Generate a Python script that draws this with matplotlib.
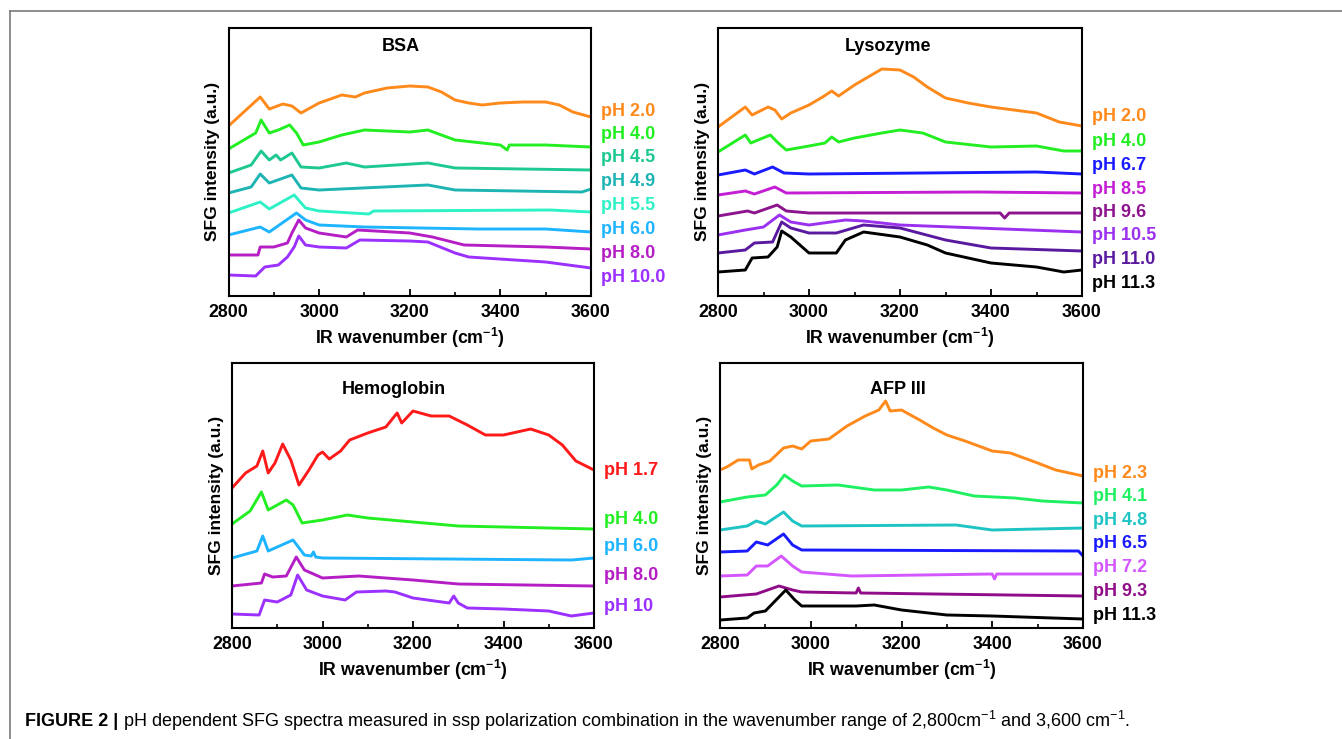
"""pH dependent SFG spectra, four proteins in a 2x2 grid"""
import matplotlib
matplotlib.use("Agg")
import matplotlib.pyplot as plt
from matplotlib.ticker import MultipleLocator

plt.rcParams['font.family'] = ['Liberation Sans', 'DejaVu Sans']
plt.rcParams['mathtext.fontset'] = 'custom'
plt.rcParams['mathtext.rm'] = 'Liberation Sans'
plt.rcParams['mathtext.bf'] = 'Liberation Sans:bold'

# ---- BSA (a.u.) ----
bsa_20_x = [2800, 2870, 2890, 2920, 2940, 2960, 2980, 3000, 3050, 3080, 3100, 3150, 3200, 3240, 3270, 3300, 3330, 3360, 3400, 3450, 3500, 3530, 3560, 3600]
bsa_20_y = [170, 199, 187, 192, 190, 183, 188, 193, 201, 199, 203, 208, 210, 209, 204, 196, 193, 191, 193, 194, 194, 191, 184, 179]
bsa_40_x = [2800, 2860, 2872, 2890, 2910, 2935, 2950, 2965, 3000, 3050, 3100, 3200, 3240, 3300, 3400, 3415, 3420, 3500, 3600]
bsa_40_y = [147, 163, 176, 163, 166, 171, 163, 151, 154, 161, 166, 164, 166, 156, 151, 146, 151, 151, 149]
bsa_45_x = [2800, 2850, 2872, 2890, 2905, 2915, 2940, 2960, 3000, 3060, 3100, 3240, 3300, 3600]
bsa_45_y = [123, 131, 145, 136, 141, 136, 143, 129, 128, 133, 129, 133, 128, 126]
bsa_49_x = [2800, 2850, 2870, 2890, 2940, 2960, 3000, 3240, 3300, 3580, 3600]
bsa_49_y = [103, 109, 122, 113, 121, 108, 106, 111, 106, 104, 107]
bsa_55_x = [2800, 2870, 2890, 2945, 2970, 3000, 3110, 3120, 3510, 3600]
bsa_55_y = [83, 94, 87, 101, 88, 85, 82, 85, 86, 84]
bsa_60_x = [2800, 2870, 2890, 2950, 2970, 3000, 3100, 3350, 3500, 3600]
bsa_60_y = [61, 69, 64, 83, 76, 71, 69, 67, 67, 64]
bsa_80_x = [2800, 2865, 2870, 2900, 2930, 2940, 2955, 2970, 3000, 3060, 3085, 3200, 3250, 3320, 3500, 3600]
bsa_80_y = [41, 41, 49, 49, 53, 63, 76, 68, 63, 59, 66, 63, 59, 51, 49, 47]
bsa_100_x = [2800, 2860, 2880, 2910, 2930, 2945, 2955, 2970, 3000, 3060, 3090, 3200, 3240, 3300, 3330, 3500, 3600]
bsa_100_y = [21, 20, 29, 31, 39, 49, 60, 51, 49, 48, 56, 55, 54, 43, 39, 34, 28]
bsa_labels = ['pH 2.0', 'pH 4.0', 'pH 4.5', 'pH 4.9', 'pH 5.5', 'pH 6.0', 'pH 8.0', 'pH 10.0']

# ---- Lysozyme ----
lys_20_x = [2800, 2860, 2875, 2910, 2925, 2940, 2960, 3000, 3030, 3050, 3065, 3100, 3130, 3160, 3200, 3230, 3260, 3300, 3350, 3400, 3450, 3500, 3550, 3600]
lys_20_y = [169, 189, 181, 189, 186, 177, 183, 191, 199, 205, 200, 211, 219, 227, 226, 219, 209, 198, 193, 189, 186, 183, 174, 170]
lys_40_x = [2800, 2860, 2872, 2915, 2930, 2950, 3000, 3035, 3050, 3065, 3100, 3160, 3200, 3250, 3300, 3400, 3500, 3560, 3600]
lys_40_y = [144, 161, 153, 161, 154, 146, 150, 153, 159, 154, 158, 163, 166, 163, 154, 149, 150, 145, 145]
lys_67_x = [2800, 2860, 2880, 2920, 2945, 3000, 3500, 3600]
lys_67_y = [121, 126, 122, 129, 123, 122, 124, 122]
lys_85_x = [2800, 2860, 2880, 2925, 2950, 3370, 3600]
lys_85_y = [101, 105, 102, 109, 103, 104, 103]
lys_96_x = [2800, 2865, 2880, 2930, 2950, 3000, 3420, 3430, 3440, 3600]
lys_96_y = [80, 85, 83, 91, 85, 83, 83, 78, 83, 83]
lys_105_x = [2800, 2860, 2900, 2935, 2960, 3000, 3080, 3120, 3200, 3600]
lys_105_y = [61, 66, 69, 81, 74, 71, 76, 75, 71, 64]
lys_110_x = [2800, 2860, 2880, 2920, 2940, 2960, 3000, 3060, 3120, 3200, 3300, 3400, 3600]
lys_110_y = [43, 46, 53, 54, 74, 68, 63, 63, 71, 68, 56, 48, 45]
lys_113_x = [2800, 2860, 2875, 2910, 2930, 2940, 2960, 3000, 3060, 3080, 3120, 3200, 3260, 3300, 3400, 3500, 3560, 3600]
lys_113_y = [24, 26, 38, 39, 49, 65, 59, 43, 43, 56, 64, 59, 51, 43, 33, 29, 24, 26]
lys_labels = ['pH 2.0', 'pH 4.0', 'pH 6.7', 'pH 8.5', 'pH 9.6', 'pH 10.5', 'pH 11.0', 'pH 11.3']

# ---- Hemoglobin ----
hem_17_x = [2800, 2830, 2855, 2868, 2880, 2895, 2912, 2930, 2948, 2970, 2990, 3000, 3015, 3040, 3060, 3100, 3140, 3165, 3175, 3200, 3240, 3280, 3320, 3360, 3400, 3460, 3500, 3530, 3560, 3600]
hem_17_y = [140, 155, 162, 177, 155, 165, 184, 168, 143, 158, 173, 176, 169, 177, 188, 195, 201, 215, 205, 217, 212, 212, 203, 193, 193, 199, 193, 183, 167, 158]
hem_40_x = [2800, 2840, 2865, 2880, 2920, 2935, 2955, 3000, 3055, 3100, 3200, 3300, 3600]
hem_40_y = [104, 117, 136, 118, 128, 123, 105, 108, 113, 110, 106, 102, 99]
hem_60_x = [2800, 2855, 2868, 2880, 2935, 2960, 2975, 2980, 2985, 3000, 3550, 3600]
hem_60_y = [70, 77, 92, 77, 88, 73, 72, 76, 71, 70, 68, 70]
hem_80_x = [2800, 2865, 2872, 2890, 2920, 2942, 2960, 3000, 3080, 3200, 3300, 3600]
hem_80_y = [42, 45, 54, 51, 52, 71, 58, 50, 52, 48, 44, 42]
hem_100_x = [2800, 2860, 2872, 2900, 2930, 2945, 2965, 3000, 3050, 3075, 3140, 3160, 3200, 3280, 3290, 3300, 3320, 3400, 3500, 3550, 3600]
hem_100_y = [14, 13, 28, 26, 33, 53, 38, 32, 28, 36, 37, 36, 30, 25, 32, 25, 20, 19, 17, 12, 15]
hem_labels = ['pH 1.7', 'pH 4.0', 'pH 6.0', 'pH 8.0', 'pH 10']

# ---- AFP III ----
afp_23_x = [2800, 2815, 2840, 2865, 2870, 2885, 2910, 2940, 2960, 2980, 3000, 3040, 3080, 3120, 3150, 3165, 3175, 3200, 3240, 3270, 3300, 3340, 3400, 3440, 3500, 3540, 3600]
afp_23_y = [158, 161, 168, 168, 159, 163, 167, 180, 182, 179, 187, 189, 202, 212, 218, 227, 217, 218, 208, 200, 193, 187, 177, 175, 165, 158, 152]
afp_41_x = [2800, 2860, 2900, 2925, 2942, 2960, 2980, 3060, 3140, 3200, 3260, 3300, 3360, 3450, 3510, 3600]
afp_41_y = [126, 131, 133, 143, 153, 147, 142, 143, 138, 138, 141, 138, 132, 130, 127, 125]
afp_48_x = [2800, 2860, 2880, 2900, 2940, 2960, 2980, 3320, 3400, 3600]
afp_48_y = [98, 102, 107, 104, 116, 107, 102, 103, 98, 100]
afp_65_x = [2800, 2860, 2880, 2905, 2940, 2960, 2980, 3590, 3600]
afp_65_y = [76, 77, 86, 83, 94, 83, 78, 77, 72]
afp_72_x = [2800, 2860, 2880, 2905, 2935, 2960, 2980, 3090, 3400, 3405, 3410, 3600]
afp_72_y = [52, 53, 62, 62, 72, 62, 56, 52, 54, 49, 54, 54]
afp_93_x = [2800, 2880, 2930, 2960, 2980, 3100, 3105, 3110, 3600]
afp_93_y = [31, 34, 42, 38, 36, 35, 40, 35, 32]
afp_113_x = [2800, 2860, 2875, 2900, 2945, 2965, 2980, 3100, 3140, 3200, 3300, 3400, 3600]
afp_113_y = [8, 10, 15, 17, 38, 28, 22, 22, 23, 18, 13, 12, 9]
afp_labels = ['pH 2.3', 'pH 4.1', 'pH 4.8', 'pH 6.5', 'pH 7.2', 'pH 9.3', 'pH 11.3']

bsa_colors = ['#ff8a1c', '#22ee22', '#1ec892', '#1fb4b4', '#2ef2c6', '#1eb4ff', '#b41ec4', '#9b30ff']
lys_colors = ['#ff8a1c', '#22ee22', '#1a1aff', '#c41ed4', '#8c148c', '#9b30ef', '#5a1aa0', '#000000']
hem_colors = ['#ff1a1a', '#22ee22', '#1eb4ff', '#b41ec4', '#9b30ff']
afp_colors = ['#ff8a1c', '#1ef062', '#1ec4c4', '#1a1aff', '#d456ff', '#900c88', '#000000']

# label centres, pixels below the top of each panel
bsa_label_pos = [83.5, 107, 130.5, 154.5, 178.5, 202, 226, 249.5]
lys_label_pos = [89, 114, 138.5, 162, 185, 208.5, 232.5, 256]
hem_label_pos = [107.5, 156, 183.5, 212, 243.5]
afp_label_pos = [110, 133.5, 157.5, 181, 205, 228.5, 252.5]

W, H = 1342, 739


def add_panel(box, title, title_x, title_dy, xs, ys, colors, labels, label_pos):
    """box = (left, top, right, bottom) in pixels"""
    l, t, r, b = box
    ax = plt.gcf().add_axes([l / W, 1 - b / H, (r - l) / W, (b - t) / H])
    for x, y, c in zip(xs, ys, colors):
        ax.plot(x, y, color=c, lw=2.1, solid_joinstyle='round')
    ax.set_xlim(2800, 3600)
    ax.set_ylim(0, b - t)
    ax.xaxis.set_major_locator(MultipleLocator(200))
    ax.xaxis.set_minor_locator(MultipleLocator(100))
    ax.tick_params(axis='x', which='major', direction='in', length=5, width=1.3,
                   labelsize=12.8, pad=6)
    ax.tick_params(axis='x', which='minor', direction='in', length=3, width=1.2)
    ax.set_yticks([])
    for lab in ax.get_xticklabels():
        lab.set_fontweight('bold')
    for s in ax.spines.values():
        s.set_linewidth(1.5)
    ax.set_xlabel(r'IR wavenumber (cm$^{\mathbf{-1}}$)', fontsize=12.8,
                  fontweight='bold', labelpad=3)
    ax.set_ylabel('SFG intensity (a.u.)', fontsize=12.5, fontweight='bold', labelpad=6)
    ax.text(title_x, (b - t) - title_dy, title, fontsize=13, fontweight='bold',
            ha='center', va='center')
    for lab, c, p in zip(labels, colors, label_pos):
        ax.annotate(lab, xy=(1, 1), xycoords='axes fraction',
                    xytext=(10 * 72 / 100, -p * 72 / 100),
                    textcoords='offset points', color=c, fontsize=13,
                    fontweight='bold', ha='left', va='center')
    return ax


fig = plt.figure(figsize=(W / 100, H / 100), dpi=100)

add_panel((228.5, 27.5, 591, 296), 'BSA', 3180, 19,
          [bsa_20_x, bsa_40_x, bsa_45_x, bsa_49_x, bsa_55_x, bsa_60_x, bsa_80_x, bsa_100_x],
          [bsa_20_y, bsa_40_y, bsa_45_y, bsa_49_y, bsa_55_y, bsa_60_y, bsa_80_y, bsa_100_y],
          bsa_colors, bsa_labels, bsa_label_pos)
add_panel((718, 27.5, 1082, 296), 'Lysozyme', 3174, 19,
          [lys_20_x, lys_40_x, lys_67_x, lys_85_x, lys_96_x, lys_105_x, lys_110_x, lys_113_x],
          [lys_20_y, lys_40_y, lys_67_y, lys_85_y, lys_96_y, lys_105_y, lys_110_y, lys_113_y],
          lys_colors, lys_labels, lys_label_pos)
add_panel((232, 363, 594, 628), 'Hemoglobin', 3158, 27,
          [hem_17_x, hem_40_x, hem_60_x, hem_80_x, hem_100_x],
          [hem_17_y, hem_40_y, hem_60_y, hem_80_y, hem_100_y],
          hem_colors, hem_labels, hem_label_pos)
add_panel((720, 363, 1083, 628), 'AFP III', 3192, 27,
          [afp_23_x, afp_41_x, afp_48_x, afp_65_x, afp_72_x, afp_93_x, afp_113_x],
          [afp_23_y, afp_41_y, afp_48_y, afp_65_y, afp_72_y, afp_93_y, afp_113_y],
          afp_colors, afp_labels, afp_label_pos)

# frame round the figure (only top and left edge are inside the picture)
fig.add_artist(plt.Line2D([9.5 / W, 1], [1 - 10.5 / H, 1 - 10.5 / H], color='#7a7a7a', lw=1.2))
fig.add_artist(plt.Line2D([9.5 / W, 9.5 / W], [0, 1 - 10.5 / H], color='#7a7a7a', lw=1.2))

cap1 = fig.text(25 / W, 1 - 721 / H, 'FIGURE 2 |', fontsize=13, fontweight='bold',
                va='center', ha='left')
fig.canvas.draw()
plt.annotate(r' pH dependent SFG spectra measured in ssp polarization combination in the '
             r'wavenumber range of 2,800cm$^{-1}$ and 3,600 cm$^{-1}$.',
             xy=(1, 0.5), xycoords=cap1, va='center', ha='left', fontsize=13,
             annotation_clip=False)

fig.savefig('out.png', dpi=100)
